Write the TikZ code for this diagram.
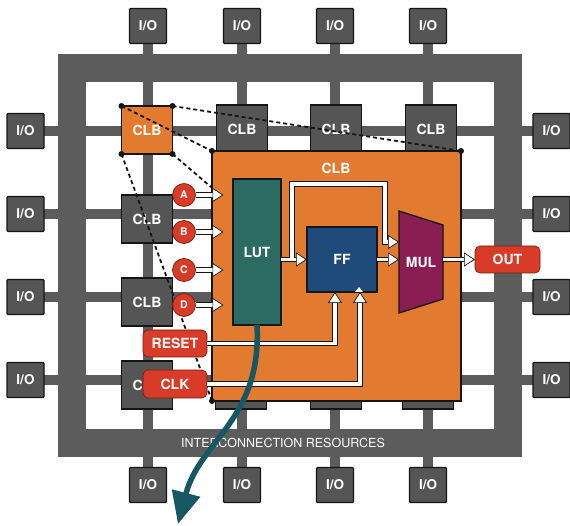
\documentclass[tikz,border=0pt]{standalone}
\usepackage{fontspec}
\setmainfont{TeX Gyre Heros}
\usetikzlibrary{arrows.meta,calc}
\definecolor{gridgray}{HTML}{5C5C5C}
\definecolor{boxgray}{HTML}{555555}
\definecolor{clborange}{HTML}{E27A2F}
\definecolor{lutteal}{HTML}{2B6B62}
\definecolor{ffblue}{HTML}{1F4B7B}
\definecolor{mulred}{HTML}{8A1E52}
\definecolor{sigred}{HTML}{D83B27}
\definecolor{sigedge}{HTML}{7A1E12}
\definecolor{arrteal}{HTML}{175663}
\definecolor{edge}{HTML}{151515}
\pgfdeclarelayer{background}
\pgfdeclarelayer{lower}
\pgfsetlayers{background,lower,main}
\begin{document}
\begin{tikzpicture}[x=1pt,y=-1pt,
  every node/.style={inner sep=0pt, outer sep=0pt},
  lab/.style={text=white, font=\fontsize{14}{16}\selectfont\bfseries},
  io/.style={lab, font=\fontsize{13.5}{15}\selectfont\bfseries, draw=edge, line width=1.3pt, fill=boxgray, minimum width=37pt, minimum height=35pt, rounded corners=1pt},
  clbbox/.style={lab, draw=edge, line width=1.3pt, fill=boxgray, minimum width=51pt, minimum height=48pt},
  wire/.style={draw=gridgray, line width=10pt},
  wtip/.style={-{Triangle[length=11pt,width=14pt,color=edge,fill=white,line width=0.7pt]}},
  wline/.style={white, line width=3.6pt},
  wback/.style={draw=edge, line width=5.2pt},
  warrow/.style={wline, wtip, preaction={wback, arrows=-, shorten >=7pt}},
  sig/.style={lab, fill=sigred, draw=sigedge, line width=0.7pt, rounded corners=5pt},
  pin/.style={circle, fill=sigred, draw=sigedge, line width=0.7pt, minimum size=23pt, text=white, font=\fontsize{10.5}{12}\selectfont\bfseries},
  zoomline/.style={draw=edge, line width=1.8pt, dash pattern=on 4pt off 3pt},
  dot/.style={fill=edge}
]
\useasboundingbox (0,0) rectangle (570,526);

% I/O pads
\foreach \i/\x in {1/148,2/242,3/335,4/428}{
  \node[io] (t\i) at (\x,26) {I/O};
  \node[io] (b\i) at (\x,485) {I/O};
}
\foreach \i/\y in {1/131,2/214,3/297,4/380}{
  \node[io] (l\i) at (25.5,\y) {I/O};
  \node[io] (r\i) at (551.5,\y) {I/O};
}

\begin{pgfonlayer}{background}
  \fill[white] (0,0) rectangle (570,526);
  \draw[gridgray, line width=28pt] (72,68) rectangle (508,443);
  \foreach \i in {1,...,4}{
    \draw[wire] (t\i) -- (b\i);
    \draw[wire] (l\i) -- (r\i);
  }
\end{pgfonlayer}

% big CLB
\node[draw=edge, line width=1.5pt, fill=clborange, minimum width=249pt, minimum height=250pt] (big) at (336.5,276) {};

\begin{pgfonlayer}{lower}
  \node[clbbox, fill=clborange] (oclb) at (147,130) {CLB};
  \node[clbbox] (c12) at (242,129) {CLB};
  \node[clbbox] (c13) at (336,129) {CLB};
  \node[clbbox] (c14) at (431,129) {CLB};
  \node[clbbox] (c21) at (147,219) {CLB};
  \node[clbbox] (c31) at (147,302) {CLB};
  \node[clbbox] (c41) at (147,385) {CLB};
  \node[clbbox] (c42) at (241,385) {};
  \node[clbbox] (c43) at (336,385) {};
  \node[clbbox] (c44) at (428,385) {};
  \draw[zoomline] (oclb.north west) -- (big.north west);
  \draw[zoomline] (oclb.north east) -- (big.north east);
  \draw[zoomline] (oclb.south east) -- (big.south east);
  \draw[zoomline] (oclb.south west) -- (big.south west);
  \foreach \p in {north west,north east,south west,south east}
    \fill[dot] (oclb.\p) circle (3pt);
\end{pgfonlayer}

\fill[dot] (big.north west) circle (3pt);
\fill[dot] (big.north east) circle (3pt);
\fill[dot] (big.south west) circle (3pt);

\node[lab] (bigl) at (336,168) {CLB};
\node[lab, draw=edge, line width=1.3pt, fill=lutteal, minimum width=48pt, minimum height=146pt] (lut) at (257,252) {LUT};
\node[lab, draw=edge, line width=1.3pt, fill=ffblue, minimum width=70pt, minimum height=65pt] (ff) at (342,259.5) {FF};
\fill[white] (355,292) -- (363,292) -- (359,287) -- cycle;

\coordinate (m1) at (399,211);
\coordinate (m2) at (443,225);
\coordinate (m3) at (443,299);
\coordinate (m4) at (399,313);
\draw[edge, line width=1.3pt, fill=mulred] (m1) -- (m2) -- (m3) -- (m4) -- cycle;
\node[lab] (mul) at (421,262) {MUL};

\node[sig, minimum width=65pt, minimum height=27pt] (out) at (507.5,259.5) {OUT};

\coordinate (mulin) at (399,259.5);
\coordinate (mulout) at (443,259.5);
\coordinate (mulin2) at (399,242);
\coordinate (br) at (292,259.5);

\draw[wback] (br) -- (292,184) -- (385,184) -- (385,242) -- ([xshift=-7pt]mulin2);
\draw[warrow] (lut.east |- ff.west) -- (ff.west);
\draw[wline, wtip] (br) -- (292,184) -- (385,184) -- (385,242) -- (mulin2);
\draw[warrow] (ff.east) -- (mulin);
\draw[warrow] (mulout) -- (out.west);

\foreach \n/\y in {A/195,B/232,C/270,D/305}{
  \node[pin] (\n) at (184,\y) {\n};
  \draw[warrow] (\n.east) -- ++(28,0);
}

\node[sig, minimum width=64pt, minimum height=27pt] (reset) at (175,343.5) {RESET};
\node[sig, minimum width=64pt, minimum height=28pt] (clk) at (175,384) {CLK};
\draw[warrow] (reset.east) -| ([xshift=-7pt]ff.south);
\draw[warrow] (clk.east) -| ([xshift=18pt]ff.south);

\node[text=white, font=\fontsize{12.5}{14}\selectfont] (ic) at (283,443) {INTERCONNECTION RESOURCES};

\coordinate (down) at (178,524);
\draw[arrteal, line width=5.5pt, -{Triangle[length=32pt,width=28pt]}] (lut.south) .. controls (262,420) and (200,440) .. (down);
\end{tikzpicture}
\end{document}
